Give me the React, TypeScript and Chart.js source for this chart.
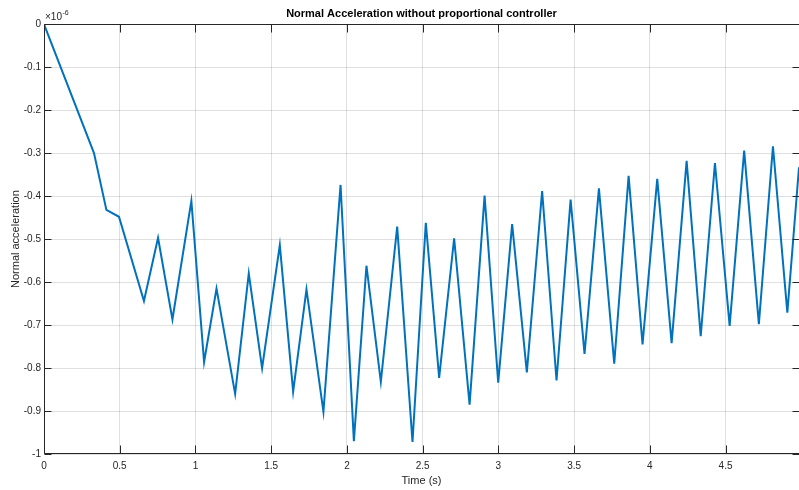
import React, { useEffect, useRef } from "react";
import { Chart, registerables } from "chart.js";

Chart.register(...registerables);

// ---- data (acceleration in units of 1e-6) ----
const timeS: number[] = [
  0, 0.33, 0.412, 0.495, 0.66, 0.753, 0.848, 0.973, 1.057, 1.139,
  1.262, 1.352, 1.44, 1.557, 1.645, 1.733, 1.845, 1.958, 2.046, 2.129,
  2.224, 2.332, 2.433, 2.521, 2.609, 2.708, 2.81, 2.909, 2.999, 3.091,
  3.188, 3.289, 3.384, 3.477, 3.569, 3.664, 3.765, 3.86, 3.952, 4.049,
  4.144, 4.243, 4.336, 4.43, 4.527, 4.623, 4.72, 4.813, 4.908, 4.985,
];
const accelMicro: number[] = [
  0, -0.3, -0.432, -0.448, -0.644, -0.497, -0.687, -0.411, -0.786, -0.615,
  -0.86, -0.58, -0.8, -0.514, -0.855, -0.617, -0.902, -0.374, -0.97, -0.562,
  -0.832, -0.471, -0.972, -0.462, -0.823, -0.498, -0.885, -0.399, -0.834, -0.465,
  -0.81, -0.388, -0.829, -0.408, -0.767, -0.382, -0.79, -0.353, -0.745, -0.36,
  -0.742, -0.318, -0.726, -0.323, -0.702, -0.294, -0.698, -0.284, -0.671, -0.333,
];
const xTickValues: number[] = [0, 0.5, 1, 1.5, 2, 2.5, 3, 3.5, 4, 4.5];
const yTickValues: number[] = [0, -0.1, -0.2, -0.3, -0.4, -0.5, -0.6, -0.7, -0.8, -0.9, -1];
const xMin = 0;
const xMax = 4.985;
const yMin = -1;
const yMax = 0;

const titleText = "Normal Acceleration without proportional controller";
const xLabel = "Time (s)";
const yLabel = "Normal acceleration";
const exponentBase = "\u00d710";
const exponentPower = "-6";

const FONT = "'Liberation Sans', Arial, Helvetica, sans-serif";
const AXIS_COLOR = "#262626";
const GRID_COLOR = "rgba(38,38,38,0.15)";
const LINE_COLOR = "#0072BD";

const fmt = (v: number) => {
  const r = Math.round(v * 10) / 10;
  return (r === 0 ? 0 : r).toString();
};

const matlabBox = {
  id: "matlabBox",
  afterDraw(chart: any) {
    const { ctx, chartArea, scales } = chart;
    const { left, right, top, bottom } = chartArea;
    const L = Math.round(left) + 0.5;
    const R = Math.round(right) + 0.5;
    const T = Math.round(top) + 0.5;
    const B = Math.round(bottom) - 0.5;
    ctx.save();
    ctx.strokeStyle = AXIS_COLOR;
    ctx.lineWidth = 1;
    ctx.beginPath();
    ctx.moveTo(L, T);
    ctx.lineTo(R, T);
    ctx.lineTo(R, B);
    ctx.lineTo(L, B);
    ctx.closePath();
    ctx.stroke();
    const xt = 8;
    const yt = 7;
    ctx.beginPath();
    xTickValues.forEach((v) => {
      const px = Math.round(scales.x.getPixelForValue(v)) + 0.5;
      ctx.moveTo(px, B);
      ctx.lineTo(px, B - xt);
      ctx.moveTo(px, T);
      ctx.lineTo(px, T + xt);
    });
    yTickValues.forEach((v) => {
      const py = Math.round(scales.y.getPixelForValue(v)) + 0.5;
      ctx.moveTo(L, py);
      ctx.lineTo(L + yt, py);
      ctx.moveTo(R, py);
      ctx.lineTo(R - yt, py);
    });
    ctx.stroke();
    // exponent label
    ctx.fillStyle = AXIS_COLOR;
    ctx.textAlign = "left";
    ctx.textBaseline = "alphabetic";
    ctx.font = `10px ${FONT}`;
    ctx.fillText(exponentBase, left + 1, top - 4.5);
    const w = ctx.measureText(exponentBase).width;
    ctx.font = `7px ${FONT}`;
    ctx.fillText(exponentPower, left + 1 + w + 0.5, top - 9);
    ctx.restore();
  },
};

export default function App() {
  const ref = useRef<HTMLCanvasElement | null>(null);
  useEffect(() => {
    if (!ref.current) return;
    const chart = new Chart(ref.current, {
      type: "line",
      data: {
        datasets: [
          {
            data: timeS.map((t, i) => ({ x: t, y: accelMicro[i] })),
            borderColor: LINE_COLOR,
            backgroundColor: LINE_COLOR,
            borderWidth: 2,
            pointRadius: 0,
            tension: 0,
            fill: false,
          },
        ],
      },
      options: {
        animation: false,
        responsive: false,
        devicePixelRatio: 1,
        layout: { padding: 0 },
        plugins: {
          legend: { display: false },
          tooltip: { enabled: false },
          title: {
            display: true,
            text: titleText,
            fullSize: false,
            color: "#000",
            font: { family: FONT, size: 11, weight: "bold" },
            padding: { top: 7, bottom: 4 },
          },
        },
        scales: {
          x: {
            type: "linear",
            min: xMin,
            max: xMax,
            afterFit: (s: any) => {
              s.height = 36;
            },
            ticks: {
              stepSize: 0.5,
              includeBounds: false,
              color: AXIS_COLOR,
              font: { family: FONT, size: 10 },
              padding: 6,
              maxRotation: 0,
              autoSkip: false,
              callback: (v: any) => fmt(Number(v)),
            },
            grid: { color: GRID_COLOR, drawTicks: false, lineWidth: 1 },
            border: { display: false },
            title: {
              display: true,
              text: xLabel,
              color: AXIS_COLOR,
              font: { family: FONT, size: 11 },
              padding: { top: 0, bottom: 2 },
            },
          },
          y: {
            type: "linear",
            min: yMin,
            max: yMax,
            afterFit: (s: any) => {
              s.width = 44;
            },
            ticks: {
              stepSize: 0.1,
              color: AXIS_COLOR,
              font: { family: FONT, size: 10 },
              padding: 3,
              autoSkip: false,
              callback: (v: any) => fmt(Number(v)),
            },
            grid: { color: GRID_COLOR, drawTicks: false, lineWidth: 1 },
            border: { display: false },
            title: {
              display: true,
              text: yLabel,
              color: AXIS_COLOR,
              font: { family: FONT, size: 11 },
              padding: { top: 9, bottom: 0 },
            },
          },
        },
      },
      plugins: [matlabBox],
    } as any);
    return () => chart.destroy();
  }, []);
  return (
    <div style={{ position: "fixed", left: 0, top: 0, width: 799, height: 490, background: "#fff" }}>
      <canvas ref={ref} width={799} height={490} style={{ width: 799, height: 490, display: "block" }} />
    </div>
  );
}
